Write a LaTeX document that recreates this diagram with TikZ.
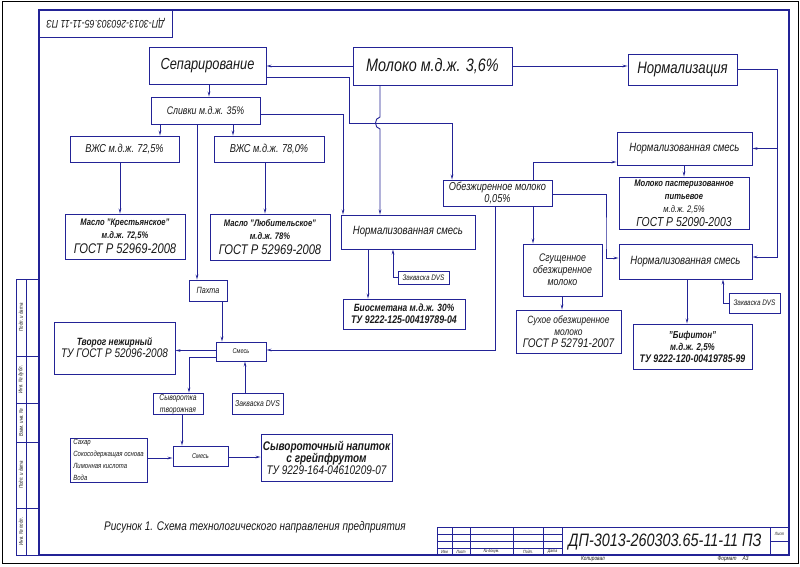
\documentclass[tikz,border=0pt]{standalone}
\usepackage{fontspec}
\setmainfont{Liberation Sans}[FakeStretch=0.8]
\usetikzlibrary{arrows.meta,calc}
\definecolor{lc}{RGB}{35,35,150}
\definecolor{tc}{RGB}{25,25,25}
\newcommand\fsz[2]{\fontsize{#1}{#2}\selectfont}
\begin{document}
\begin{tikzpicture}[x=1pt,y=-1pt,
  box/.style={draw=lc, line width=0.9pt, rectangle, inner sep=1pt, align=center, text=tc, font=\itshape},
  arr/.style={draw=lc, line width=0.9pt, -{Stealth[length=5pt,width=2.6pt]}},
  ln/.style={draw=lc, line width=0.9pt},
  lbl/.style={text=tc, inner sep=0pt, font=\itshape},
]
\useasboundingbox[fill=white] (0,0) rectangle (800,566);
% frames
\draw[black, line width=1pt] (2,1.5) rectangle (798,563);
\draw[lc, line width=1.2pt] (39,10) rectangle (789,555);
% stamp
\draw[ln] (39,10) rectangle (172,37);
\node[lbl, rotate=180] (stamp) at (105.5,23.5) {\fsz{11}{12}ДП-3013-260303.65-11-11 ПЗ};
% left strip
\draw[ln] (16,279) rectangle (39,555);
\draw[ln] (26,279) -- (26,555);
\foreach \yy in {356,403,442,508} \draw[ln] (16,\yy) -- (39,\yy);
\node[lbl, rotate=90] (s1) at (21,317.5) {\fsz{5.5}{6}Подп. и дата};
\node[lbl, rotate=90] (s2) at (21,379.5) {\fsz{5.5}{6}Инв. № дубл.};
\node[lbl, rotate=90] (s3) at (21,422.5) {\fsz{5.5}{6}Взам. инв. №};
\node[lbl, rotate=90] (s4) at (21,475) {\fsz{5.5}{6}Подп. и дата};
\node[lbl, rotate=90] (s5) at (21,531.5) {\fsz{5.5}{6}Инв. № подл.};
% title block
\draw[ln] (437,527) -- (789,527);
\foreach \xx in {437,452,470,513,543,562,770} \draw[ln] (\xx,527) -- (\xx,555);
\foreach \yy in {534.5,541.5,548} \draw[ln] (437,\yy) -- (562,\yy);
\draw[ln] (770,541) -- (789,541);
\node[lbl] (t1) at (444.5,551.7) {\fsz{4.5}{5}Изм};
\node[lbl] (t2) at (461,551.7) {\fsz{4.5}{5}Лист};
\node[lbl] (t3) at (491.5,551.7) {\fsz{4.5}{5}№ докум.};
\node[lbl] (t4) at (528,551.7) {\fsz{4.5}{5}Подп.};
\node[lbl] (t5) at (552.5,551.7) {\fsz{4.5}{5}Дата};
\node[lbl] (t6) at (779.5,534) {\fsz{4.5}{5}Лист};
\node[lbl] (code) at (665,541.5) {\fsz{18}{18}ДП-3013-260303.65-11-11 ПЗ};
\node[lbl] (kop) at (593,559.5) {\fsz{6}{6}Копировал};
\node[lbl] (fmt) at (733,559.5) {\fsz{6}{6}Формат\quad А3};
\node[lbl] (cap) at (255,527.5) {\fsz{12.5}{12}Рисунок 1. Схема технологического направления предприятия};

% nodes
\node[box, minimum width=117, minimum height=37] (sep) at (207.5,65.5) {\fsz{16}{16}Сепарирование};
\node[box, minimum width=159, minimum height=38] (milk) at (432.5,66) {\fsz{18}{18}Молоко м.д.ж. 3,6\%};
\node[box, minimum width=109, minimum height=31] (norm) at (682.5,69.5) {\fsz{16.5}{16}Нормализация};
\node[box, minimum width=109, minimum height=27] (sliv) at (205.5,110.5) {\fsz{11}{11}Сливки м.д.ж. 35\%};
\node[box, minimum width=109, minimum height=26] (vz1) at (124.5,149) {\fsz{11.5}{12}ВЖС м.д.ж. 72,5\%};
\node[box, minimum width=110, minimum height=26] (vz2) at (269,149) {\fsz{11.5}{12}ВЖС м.д.ж. 78,0\%};
\node[box, minimum width=120, minimum height=45] (m1) at (125,236.5) {\fsz{9.5}{10}\bfseries Масло "Крестьянское"\\[1pt] \fsz{9.5}{10}\bfseries м.д.ж. 72,5\%\\[3pt] \fsz{14}{14}ГОСТ Р 52969-2008};
\node[box, minimum width=120, minimum height=46] (m2) at (270,237) {\fsz{9.5}{10}\bfseries Масло "Любительское"\\[1pt] \fsz{9.5}{10}\bfseries м.д.ж. 78\%\\[3pt] \fsz{14}{14}ГОСТ Р 52969-2008};
\node[box, minimum width=134, minimum height=34] (nsm) at (408,232) {\fsz{12}{12}Нормализованная смесь};
\node[box, minimum width=109, minimum height=26] (obez) at (497.5,193) {\fsz{11.5}{11}Обезжиренное молоко\\ \fsz{11.5}{11}0,05\%};
\node[box, minimum width=135, minimum height=33] (nsm1) at (684.5,148.5) {\fsz{12}{12}Нормализованная смесь};
\node[box, minimum width=130, minimum height=52] (past) at (684,203) {\fsz{9.5}{10}\bfseries Молоко пастеризованное\\[1pt] \fsz{9.5}{10}\bfseries питьевое\\[1pt] \fsz{9.5}{10}м.д.ж. 2,5\%\\[2pt] \fsz{13}{13}ГОСТ Р 52090-2003};
\node[box, minimum width=133, minimum height=35] (nsm2) at (685.5,261.5) {\fsz{12}{12}Нормализованная смесь};
\node[box, minimum width=79, minimum height=52] (sg) at (562.5,270) {\fsz{11}{13}Сгущенное\\ \fsz{11}{13}обезжиренное\\ \fsz{11}{13}молоко};
\node[box, minimum width=105, minimum height=43] (suh) at (568.5,331.5) {\fsz{10.5}{13}Сухое обезжиренное\\ \fsz{10.5}{13}молоко\\ \fsz{12.5}{13}ГОСТ Р 52791-2007};
\node[box, minimum width=119, minimum height=45] (bif) at (692.5,346.5) {\fsz{10}{12}\bfseries "Бифитон"\\ \fsz{10}{12}\bfseries м.д.ж. 2,5\%\\ \fsz{11}{12}\bfseries ТУ 9222-120-00419785-99};
\node[box, minimum width=51, minimum height=20] (zR) at (754.5,303) {\fsz{8}{8}Закваска DVS};
\node[box, minimum width=51, minimum height=13] (zM) at (423.5,277.5) {\fsz{8}{8}Закваска DVS};
\node[box, minimum width=122, minimum height=30] (bio) at (404,314) {\fsz{10.5}{12}\bfseries Биосметана м.д.ж. 30\%\\ \fsz{11}{12}\bfseries ТУ 9222-125-00419789-04};
\node[box, minimum width=38, minimum height=21] (pah) at (208,290.5) {\fsz{9}{9}Пахта};
\node[box, minimum width=121, minimum height=52] (tv) at (114.5,348) {\fsz{10.5}{12}\bfseries Творог нежирный\\ \fsz{12.5}{12}ТУ ГОСТ Р 52096-2008};
\node[box, minimum width=50, minimum height=19] (sm1) at (241,351.5) {\fsz{7}{7}Смесь};
\node[box, minimum width=50, minimum height=20] (syv) at (178,404) {\fsz{8.5}{9}Сыворотка\\ \fsz{8.5}{9}творожная};
\node[box, minimum width=51, minimum height=21] (zL) at (257.5,403.5) {\fsz{8.5}{8}Закваска DVS};
\node[box, minimum width=55, minimum height=20] (sm2) at (200.5,456) {\fsz{7}{7}Смесь};
\node[box, minimum width=77, minimum height=44, align=left] (sp) at (108.5,460) {\fsz{7.5}{10}Сахар\\ \fsz{7.5}{10}Сокосодержащая основа\\ \fsz{7.5}{10}Лимонная кислота\\ \fsz{7.5}{10}Вода};
\node[box, minimum width=131, minimum height=47] (nap) at (326.5,457.5) {\fsz{12.5}{13}\bfseries Сывороточный напиток\\ \fsz{12.5}{13}\bfseries с грейпфрутом\\ \fsz{12.5}{13}ТУ 9229-164-04610209-07};

% connectors
\draw[arr] (milk.west) -- (milk.west -| sep.east);
\draw[arr] (milk.east) -- (milk.east -| norm.west);
\draw[arr] (209,0 |- sep.south) -- (209,0 |- sliv.north);
\draw[arr] (sep.east |- 0,77) -- (349,77) -- (349,123) -- (452,123) -- (452,0 |- obez.north);
\draw[arr] (380,0 |- milk.south) -- (380,117) .. controls (374,118) and (374,128) .. (380,129) -- (380,0 |- nsm.north);
\draw[arr] (sliv.east |- 0,114) -| (343,0 |- nsm.north);
\draw[arr] (160,0 |- sliv.south) -- (160,0 |- vz1.north);
\draw[arr] (233,0 |- sliv.south) -- (233,0 |- vz2.north);
\draw[arr] (197,0 |- sliv.south) -- (197,0 |- pah.north);
\draw[arr] (120,0 |- vz1.south) -- (120,0 |- m1.north);
\draw[arr] (265,0 |- vz2.south) -- (265,0 |- m2.north);
\draw[arr] (368,0 |- nsm.south) -- (368,0 |- bio.north);
\draw[arr] (zM.west) -| (393,0 |- nsm.south);
\draw[arr] (533,0 |- obez.north) |- (nsm1.west |- 0,162);
\draw[arr] (norm.east) -| (777,0 |- nsm1.east) -- (nsm1.east);
\draw[arr] (777,0 |- nsm1.east) |- (nsm2.east |- 0,257);
\draw[arr] (684,0 |- nsm1.south) -- (684,0 |- past.north);
\draw[arr] (533,0 |- obez.south) -- (533,0 |- sg.north);
\draw[arr] (obez.east |- 0,194) -| (606,0 |- 0,240) |- (nsm2.west |- 0,258);
\draw[arr] (495,0 |- obez.south) |- (sm1.east |- 0,350);
\draw[arr] (562,0 |- sg.south) -- (562,0 |- suh.north);
\draw[arr] (687,0 |- nsm2.south) -- (687,0 |- bif.north);
\draw[arr] (zR.west) -| (723,0 |- nsm2.south);
\draw[arr] (222,0 |- pah.south) -- (222,0 |- sm1.north);
\draw[arr] (sm1.west |- 0,350.5) -- (tv.east |- 0,350.5);
\draw[arr] (sm1.west |- 0,357) -| (189,0 |- syv.north);
\draw[arr] (245,0 |- zL.north) -- (245,0 |- sm1.south);
\draw[arr] (182,0 |- syv.south) -- (182,0 |- sm2.north);
\draw[arr] (sp.east |- 0,458) -- (sm2.west |- 0,458);
\draw[arr] (sm2.east |- 0,457) -- (nap.west |- 0,457);
\end{tikzpicture}
\end{document}
